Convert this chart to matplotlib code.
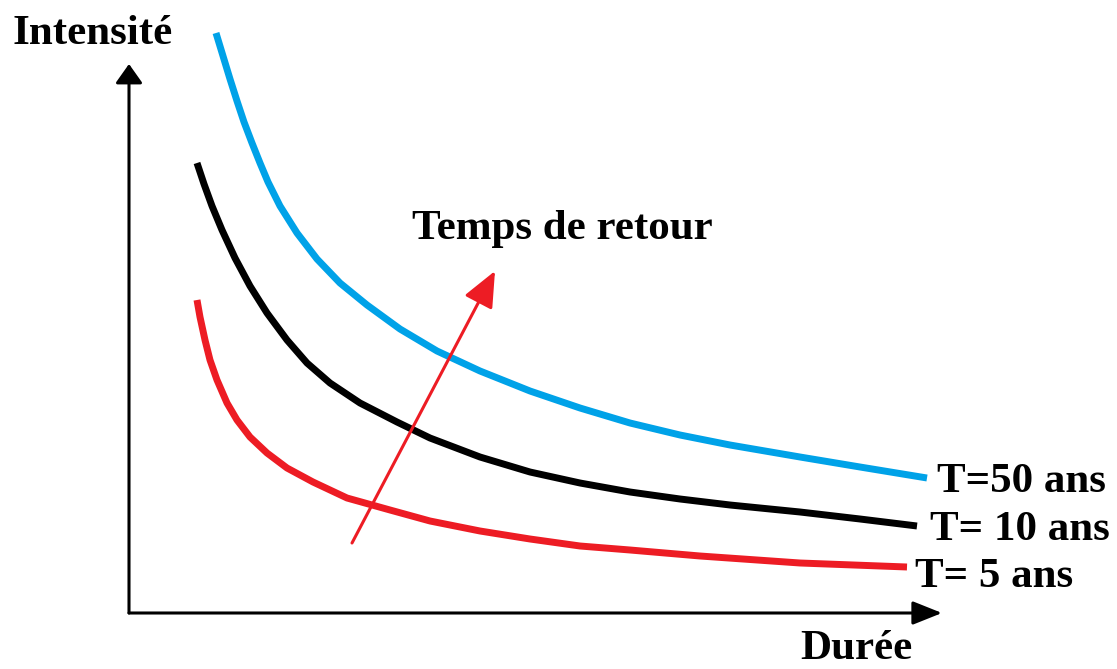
import matplotlib
matplotlib.use("Agg")
import matplotlib.pyplot as plt

# curve values (duration, intensity) in arbitrary units
blue_x = [87, 94, 101, 108, 115, 123, 131, 139, 151, 168, 188, 211, 238, 271, 308,
          351, 401, 451, 501, 551, 601, 671, 731, 798]
blue_y = [580, 557, 534, 512, 491, 470, 450, 431, 407, 380, 354, 330, 308, 284, 262,
          242, 222, 205, 190, 178, 168, 156, 146, 135]

black_x = [68, 75, 83, 93, 106, 121, 138, 158, 178, 201, 231, 268, 301, 351, 401,
           451, 501, 551, 601, 671, 731, 788]
black_y = [450, 429, 407, 383, 355, 327, 300, 273, 250, 230, 210, 191, 175, 156, 141,
           130, 121, 114, 108, 101, 94, 87]

red_x = [68, 71, 76, 81, 88, 98, 108, 121, 138, 158, 184, 218, 261, 301, 351,
         401, 451, 501, 571, 671, 778]
red_y = [313, 296, 273, 253, 233, 210, 193, 176, 160, 145, 131, 115, 103, 92, 82,
         74, 67, 63, 57, 50, 46]

series_labels = ["T=50 ans", "T= 10 ans", "T= 5 ans"]
series_colors = ["#00A2E8", "#000000", "#ED1C24"]

# "Temps de retour" arrow, from -> to
trend_start = (223, 70)
trend_end = (366, 342)

x_axis_end = 813
y_axis_end = 549

fig = plt.figure(figsize=(11.17, 6.69), dpi=100)
ax = fig.add_axes([0, 0, 1, 1])
ax.set_xlim(-129, 988)
ax.set_ylim(-56, 613)
ax.axis("off")

font = dict(family="Liberation Serif", fontweight="bold", fontsize=31)

for xs, ys, c in zip([blue_x, black_x, red_x], [blue_y, black_y, red_y], series_colors):
    ax.plot(xs, ys, color=c, lw=5, solid_capstyle="butt", solid_joinstyle="round")

# axes with arrow heads
ax.annotate("", xy=(0, y_axis_end), xytext=(0, 0),
            arrowprops=dict(arrowstyle="-|>,head_length=0.65,head_width=0.46",
                            color="black", lw=2.2, mutation_scale=18,
                            shrinkA=0, shrinkB=0))
ax.annotate("", xy=(x_axis_end, 0), xytext=(0, 0),
            arrowprops=dict(arrowstyle="-|>,head_length=1.0,head_width=0.4",
                            color="black", lw=2.2, mutation_scale=18,
                            shrinkA=0, shrinkB=0))

# return-period arrow
ax.annotate("", xy=trend_end, xytext=trend_start,
            arrowprops=dict(arrowstyle="-|>,head_length=1.1,head_width=0.48",
                            color="#ED1C24", lw=2.2, mutation_scale=20,
                            shrinkA=0, shrinkB=0))

ax.text(-116, 569, "Intensité", ha="left", va="baseline", **font)
ax.text(671, -46, "Durée", ha="left", va="baseline", **font)
ax.text(283, 374, "Temps de retour", ha="left", va="baseline", **font)

label_pos = [(808, 121), (801, 73), (786, 26)]
for (lx, ly), lab in zip(label_pos, series_labels):
    ax.text(lx, ly, lab, ha="left", va="baseline", **font)

fig.savefig("out.png", dpi=100, facecolor="white")
